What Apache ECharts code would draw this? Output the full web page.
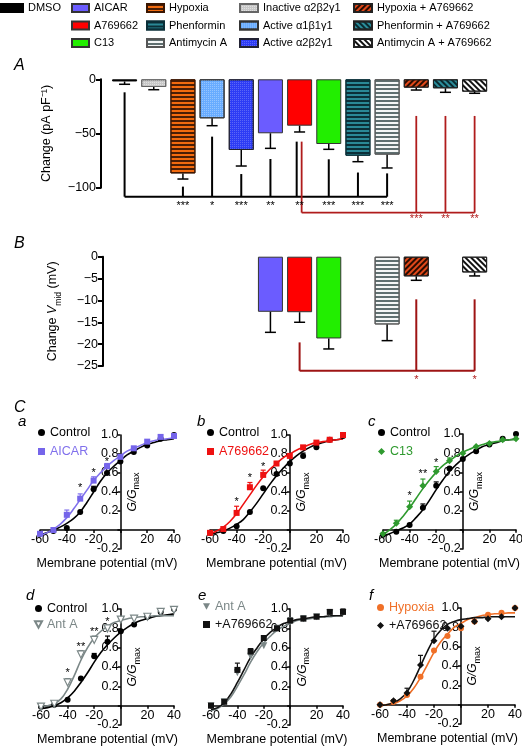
<!DOCTYPE html>
<html><head><meta charset="utf-8">
<script src="https://cdn.jsdelivr.net/npm/echarts@6/dist/echarts.min.js"></script>
<style>html,body{margin:0;padding:0;background:#fff}#c{width:522px;height:746px}</style>
</head><body><div id="c"></div>
<script>
const FONT = '"Liberation Sans", Arial, Helvetica, sans-serif';

// ---------- Panel A data ----------
const catsA = ['DMSO','Inactive α2β2γ1','Hypoxia','Active α1β1γ1','Active α2β2γ1','AICAR','A769662','C13','Phenformin','Antimycin A','Hypoxia + A769662','Phenformin + A769662','Antimycin A + A769662'];
const valsA = [-2.0,-7.1,-86.8,-36.0,-65.2,-49.8,-42.8,-59.7,-70.5,-69.5,-7.7,-8.3,-11.4];
const errA  = [-4.6,-9.6,-92.0,-42.8,-80.0,-63.7,-48.6,-64.6,-76.0,-81.8,-9.9,-12.0,-12.9];
const ticksA = [0,-50,-100];
const sigLinesA_black = [[0,-12,0,-108.3],[0,-108.3,9,-108.3],[2,-99,2,-108.3],[3,-52.9,3,-108.3],[4,-87.4,4,-108.3],[5,-73.5,5,-108.3],[5.9,-57.5,5.9,-108.3],[7,-73.8,7,-108.3],[8,-86,8,-108.3],[9,-86.8,9,-108.3]];
const sigLinesA_red = [[6.07,-57.5,6.07,-123],[6.07,-123,12,-123],[10,-33.8,10,-123],[11,-33.8,11,-123],[12,-33.8,12,-123]];
const starsA_black = [[2,-116.5,'***'],[3,-116.5,'*'],[4,-116.5,'***'],[5,-116.5,'**'],[6,-116.5,'**'],[7,-116.5,'***'],[8,-116.5,'***'],[9,-116.5,'***']];
const starsA_red = [[10,-129,'***'],[11,-129,'**'],[12,-129,'**']];

// ---------- Panel B data ----------
const catsB = ['AICAR','A769662','C13','Antimycin A','Hypoxia + A769662','Antimycin A + A769662'];
const valsB = [-12.6,-12.7,-18.7,-15.5,-4.5,-3.6];
const errB  = [-17.3,-15.0,-21.1,-19.2,-5.4,-4.4];
const ticksB = [0,-5,-10,-15,-20,-25];
const sigLinesB_red = [[6,-19.6,6,-26.1],[6,-26.1,12,-26.1],[10,-9.75,10,-26.1],[12,-9.75,12,-26.1]];
const starsB_red = [[10,-28.2,'*'],[12,-28.2,'*']];

// ---------- Panel C data ----------
const mvPts = [-60,-50,-40,-30,-20,-10,0,10,20,30,40];
const mvFit = [-60,-55,-50,-45,-40,-35,-30,-25,-20,-15,-10,-5,0,5,10,15,20,25,30,35,40];
const ticksCx = [-60,-40,-20,0,20,40];
const ticksCy = [-0.2,0,0.2,0.4,0.6,0.8,1.0];

const ctrlA_pts = [-0.04,-0.01,0.02,0.19,0.43,0.60,0.72,0.82,0.89,0.96,1.00];
const aicar_pts = [-0.04,0.00,0.16,0.33,0.52,0.67,0.77,0.86,0.93,0.98,0.99];
const ctrlA_fit = [-0.05,-0.03,0.00,0.03,0.07,0.12,0.19,0.29,0.40,0.51,0.60,0.67,0.73,0.79,0.83,0.87,0.90,0.92,0.94,0.95,0.96];
const aicar_fit = [-0.06,-0.03,0.01,0.06,0.13,0.22,0.32,0.42,0.52,0.60,0.67,0.73,0.78,0.83,0.86,0.89,0.92,0.94,0.95,0.96,0.97];
const ctrlA_err = [[-20,0.43,0.46]];
const aicar_err = [[-40,0.16,0.21],[-30,0.33,0.38],[-20,0.52,0.56],[-10,0.67,0.70]];
const stars_a = [[-30,0.44,'*'],[-20,0.60,'*'],[-10,0.72,'*']];

const ctrlB_pts = [-0.03,-0.01,0.04,0.19,0.44,0.59,0.70,0.78,0.87,0.95,0.99];
const a769B_pts = [-0.03,0.01,0.18,0.45,0.58,0.70,0.78,0.87,0.92,0.95,1.00];
const ctrlB_fit = [-0.05,-0.03,-0.01,0.02,0.06,0.11,0.19,0.28,0.38,0.48,0.57,0.65,0.72,0.78,0.83,0.87,0.90,0.92,0.94,0.95,0.96];
const a769B_fit = [-0.04,-0.01,0.03,0.09,0.17,0.27,0.37,0.47,0.56,0.64,0.70,0.76,0.80,0.84,0.87,0.90,0.92,0.93,0.94,0.95,0.96];
const ctrlB_err = [[10,0.78,0.81],[20,0.87,0.89]];
const a769B_err = [[-40,0.18,0.25],[-30,0.45,0.50],[-20,0.58,0.63]];
const stars_b = [[-40,0.29,'*'],[-30,0.55,'*'],[-20,0.66,'*']];

const ctrlC_pts = [-0.05,-0.02,0.05,0.23,0.46,0.64,0.74,0.82,0.89,0.95,1.00];
const c13_pts   = [-0.04,0.07,0.24,0.46,0.61,0.72,0.80,0.87,0.90,0.94,0.95];
const ctrlC_fit = [-0.06,-0.04,-0.01,0.02,0.06,0.13,0.21,0.31,0.42,0.52,0.61,0.68,0.74,0.79,0.83,0.87,0.89,0.91,0.93,0.94,0.95];
const c13_fit   = [-0.05,0.00,0.06,0.14,0.23,0.33,0.43,0.52,0.60,0.67,0.72,0.77,0.81,0.84,0.87,0.89,0.91,0.92,0.93,0.94,0.94];
const ctrlC_err = [[-30,0.23,0.27],[-20,0.46,0.50]];
const c13_err   = [[-50,0.07,0.10],[-40,0.24,0.30],[-30,0.46,0.53],[-20,0.61,0.66],[-10,0.72,0.75]];
const stars_c = [[-40,0.35,'*'],[-30,0.58,'**'],[-20,0.70,'*']];

const ctrlD_pts = [-0.01,0.01,0.06,0.28,0.51,0.66,0.77,0.84,0.92,0.97,1.00];
const antD_pts  = [-0.01,0.02,0.24,0.53,0.68,0.80,0.89,0.90,0.92,0.97,0.99];
const ctrlD_fit = [-0.03,-0.02,0.00,0.03,0.08,0.15,0.24,0.34,0.45,0.55,0.63,0.70,0.76,0.81,0.85,0.88,0.90,0.92,0.93,0.94,0.95];
const antD_fit  = [-0.01,0.00,0.02,0.07,0.17,0.31,0.47,0.60,0.70,0.77,0.82,0.86,0.88,0.90,0.91,0.92,0.92,0.93,0.93,0.93,0.93];
const ctrlD_err = [[-20,0.51,0.54],[-10,0.66,0.72]];
const antD_err  = [[-40,0.24,0.28],[-30,0.53,0.57],[-20,0.68,0.72],[-10,0.80,0.83]];
const stars_d = [[-40,0.34,'*'],[-30,0.61,'**'],[-20,0.76,'**'],[-10,0.87,'*']];

const antE_pts  = [0.00,0.04,0.34,0.51,0.62,0.80,0.87,0.90,0.92,0.96,0.96];
const a769E_pts = [0.00,0.04,0.37,0.56,0.70,0.80,0.88,0.90,0.92,0.97,0.97];
const antE_fit  = [-0.05,-0.03,0.02,0.09,0.20,0.32,0.45,0.56,0.65,0.72,0.78,0.82,0.85,0.88,0.89,0.90,0.91,0.92,0.92,0.93,0.93];
const a769E_fit = [-0.04,-0.02,0.03,0.12,0.24,0.37,0.50,0.60,0.69,0.76,0.81,0.85,0.87,0.89,0.90,0.91,0.92,0.92,0.93,0.93,0.93];
const antE_err  = [[0,0.87,0.91],[10,0.90,0.92]];
const a769E_err = [[-40,0.37,0.44],[-30,0.56,0.59],[10,0.90,0.93],[20,0.92,0.94],[40,0.97,1.00]];
const stars_e = [];

const hypF_pts  = [0.00,0.03,0.10,0.29,0.56,0.71,0.79,0.86,0.93,0.95,1.00];
const a769F_pts = [0.00,0.04,0.12,0.41,0.66,0.79,0.81,0.86,0.89,0.91,1.00];
const hypF_fit  = [-0.01,0.00,0.01,0.04,0.09,0.17,0.28,0.41,0.54,0.65,0.73,0.80,0.84,0.88,0.90,0.92,0.93,0.94,0.94,0.95,0.95];
const a769F_fit = [-0.01,0.00,0.02,0.06,0.13,0.25,0.40,0.55,0.68,0.77,0.83,0.86,0.88,0.89,0.90,0.90,0.91,0.91,0.91,0.91,0.91];
const hypF_err  = [];
const a769F_err = [[-50,0.04,0.05],[-40,0.12,0.17],[-30,0.41,0.51],[-20,0.66,0.76]];
const stars_f = [];

// ---------- styles ----------
const hStripe = c => ({symbol:'rect', symbolSize:1, dashArrayX:[1,0], dashArrayY:[1.4,1.9], rotation:0, color:c});
const dStripe = (c, r) => ({symbol:'rect', symbolSize:1, dashArrayX:[1,0], dashArrayY:[2,2], rotation:r, color:c});
const dots = c => ({symbol:'rect', symbolSize:1, dashArrayX:[1,1], dashArrayY:[1,1], rotation:0, color:c});
const barStyle = {
  'DMSO': {color:'#000', borderColor:'#000'},
  'Inactive α2β2γ1': {color:'#c8c8c8', borderColor:'#666', decal:dots('rgba(255,255,255,0.45)')},
  'Hypoxia': {color:'#f26b0f', borderColor:'#3a1500', decal:hStripe('#4a1e05')},
  'Active α1β1γ1': {color:'#68acff', borderColor:'#333', decal:dots('rgba(255,255,255,0.3)')},
  'Active α2β2γ1': {color:'#2d3cf5', borderColor:'#223', decal:dots('rgba(255,255,255,0.22)')},
  'AICAR': {color:'#6b5cff', borderColor:'#333'},
  'A769662': {color:'#ff0000', borderColor:'#333'},
  'C13': {color:'#22ee00', borderColor:'#333'},
  'Phenformin': {color:'#2a8896', borderColor:'#0b2f38', decal:hStripe('#0b2f38')},
  'Antimycin A': {color:'#f4f6f6', borderColor:'#555', decal:hStripe('#5f6f70')},
  'Hypoxia + A769662': {color:'#e0481a', borderColor:'#222', decal:dStripe('#2a0c00', -Math.PI/4)},
  'Phenformin + A769662': {color:'#2b8d9b', borderColor:'#222', decal:dStripe('#0a2a30', Math.PI/4)},
  'Antimycin A + A769662': {color:'#ffffff', borderColor:'#222', decal:dStripe('#111', Math.PI/4)}
};
const DOWN_TRI = 'path://M0,0 L10,0 L5,9 Z';

const minus = v => (v < 0 ? '\u2212' + Math.abs(v) : String(v));

function segSeries(segs, color, lw, xi, yi) {
  return {type:'custom', xAxisIndex:xi, yAxisIndex:yi, clip:false, silent:true, z:5, data:segs,
    renderItem:(p, api) => {
      const a = api.coord([api.value(0), api.value(1)]);
      const b = api.coord([api.value(2), api.value(3)]);
      return {type:'line', shape:{x1:a[0], y1:a[1], x2:b[0], y2:b[1]}, style:{stroke:color, lineWidth:lw}};
    }};
}
function errSeries(data, color, capHalf, lw, xi, yi, z) {
  return {type:'custom', xAxisIndex:xi, yAxisIndex:yi, clip:false, silent:true, z:z||4, data:data,
    renderItem:(p, api) => {
      const a = api.coord([api.value(0), api.value(1)]);
      const b = api.coord([api.value(0), api.value(2)]);
      return {type:'group', children:[
        {type:'line', shape:{x1:a[0], y1:a[1], x2:b[0], y2:b[1]}, style:{stroke:color, lineWidth:lw}},
        {type:'line', shape:{x1:b[0]-capHalf, y1:b[1], x2:b[0]+capHalf, y2:b[1]}, style:{stroke:color, lineWidth:lw}}
      ]};
    }};
}
function textSeries(data, color, fs, xi, yi) {
  return {type:'custom', xAxisIndex:xi, yAxisIndex:yi, clip:false, silent:true, z:6,
    data:data.map(d => [d[0], d[1]]),
    renderItem:(p, api) => {
      const a = api.coord([api.value(0), api.value(1)]);
      return {type:'text', x:a[0], y:a[1], style:{text:data[p.dataIndex][2], fill:color, font:fs + 'px ' + FONT, align:'center', verticalAlign:'middle'}};
    }};
}

const grids = [], xAxes = [], yAxes = [], series = [], legends = [], titles = [];

// ---------- Grid A ----------
grids.push({left:110, top:79.3, width:379.2, height:108.4});
xAxes.push({type:'category', gridIndex:0, data:catsA, show:false, axisLine:{onZero:false}});
xAxes.push({type:'value', gridIndex:0, min:-0.5, max:12.5, show:false, axisLine:{onZero:false}});
yAxes.push({type:'value', gridIndex:0, min:-100, max:0, interval:50, offset:9,
  axisLine:{show:true, onZero:false, lineStyle:{color:'#000', width:2}},
  axisTick:{show:true, length:5, lineStyle:{color:'#000', width:2}},
  axisLabel:{fontSize:12.5, color:'#000', margin:5, fontFamily:FONT, formatter:minus},
  splitLine:{show:false},
  name:'Change (pA pF\u207B\u00B9)', nameLocation:'middle', nameGap:48, nameRotate:90,
  nameTextStyle:{fontSize:12.5, color:'#000', fontFamily:FONT}});
catsA.forEach((name, i) => {
  series.push({type:'bar', name:name, stack:'A', xAxisIndex:0, yAxisIndex:0, barWidth:25, z:3,
    data: valsA.map((v, j) => j === i ? v : '-'),
    itemStyle: Object.assign({borderWidth:1}, barStyle[name])});
});
series.push(errSeries(catsA.map((c, i) => [i, valsA[i], errA[i]]), '#000', 5.5, 1.5, 1, 0));
series.push(segSeries(sigLinesA_black, '#000', 2, 1, 0));
series.push(segSeries(sigLinesA_red, '#b01c1c', 1.8, 1, 0));
series.push(textSeries(starsA_black, '#000', 11, 1, 0));
series.push(textSeries(starsA_red, '#b01c1c', 11, 1, 0));

// ---------- Grid B ----------
grids.push({left:110, top:256.7, width:379.2, height:109.3});
xAxes.push({type:'category', gridIndex:1, data:catsA, show:false, axisLine:{onZero:false}});
xAxes.push({type:'value', gridIndex:1, min:-0.5, max:12.5, show:false, axisLine:{onZero:false}});
yAxes.push({type:'value', gridIndex:1, min:-25, max:0, interval:5, offset:7,
  axisLine:{show:true, onZero:false, lineStyle:{color:'#000', width:2}},
  axisTick:{show:true, length:5, lineStyle:{color:'#000', width:2}},
  axisLabel:{fontSize:12.5, color:'#000', margin:5, fontFamily:FONT, formatter:minus},
  splitLine:{show:false},
  name:'Change {i|V}{s|mid} (mV)', nameLocation:'middle', nameGap:40, nameRotate:90,
  nameTextStyle:{fontSize:12.5, color:'#000', fontFamily:FONT,
    rich:{i:{fontSize:12.5, fontStyle:'italic', fontFamily:FONT, color:'#000'}, s:{fontSize:8.5, fontFamily:FONT, color:'#000', verticalAlign:'bottom', lineHeight:20}}}});
catsB.forEach((name, k) => {
  const idx = catsA.indexOf(name);
  series.push({type:'bar', name:name, stack:'B', xAxisIndex:2, yAxisIndex:1, barWidth:25, z:3,
    data: catsA.map((c, j) => j === idx ? valsB[k] : '-'),
    itemStyle: Object.assign({borderWidth:1}, barStyle[name])});
});
series.push(errSeries(catsB.map((c, k) => [catsA.indexOf(c), valsB[k], errB[k]]), '#000', 5.5, 1.5, 3, 1));
series.push(segSeries(sigLinesB_red, '#9e1414', 2, 3, 1));
series.push(textSeries(starsB_red, '#b01c1c', 11, 3, 1));

// ---------- Panel C ----------
const panelsC = [
  {key:'a', grid:{left:40, top:435, width:134, height:114}, legend:{left:38, top:426, gap:6},
   sets:[{name:'Control', pts:ctrlA_pts, fit:ctrlA_fit, err:ctrlA_err, color:'#000', line:'#000', symbol:'circle', size:6},
         {name:'AICAR', pts:aicar_pts, fit:aicar_fit, err:aicar_err, color:'#7565ea', line:'#8070ec', symbol:'rect', size:6}], stars:stars_a},
  {key:'b', grid:{left:210, top:435, width:133, height:114}, legend:{left:207, top:426, gap:6},
   sets:[{name:'Control', pts:ctrlB_pts, fit:ctrlB_fit, err:ctrlB_err, color:'#000', line:'#000', symbol:'circle', size:6},
         {name:'A769662', pts:a769B_pts, fit:a769B_fit, err:a769B_err, color:'#ee1111', line:'#ee1111', symbol:'rect', size:6}], stars:stars_b},
  {key:'c', grid:{left:383, top:434, width:133, height:115}, legend:{left:378, top:426, gap:6},
   sets:[{name:'Control', pts:ctrlC_pts, fit:ctrlC_fit, err:ctrlC_err, color:'#000', line:'#000', symbol:'circle', size:6},
         {name:'C13', pts:c13_pts, fit:c13_fit, err:c13_err, color:'#2f9a2f', line:'#2f9a2f', symbol:'diamond', size:7}], stars:stars_c},
  {key:'d', grid:{left:41, top:609, width:133, height:116}, legend:{left:34, top:602, gap:3},
   sets:[{name:'Control', pts:ctrlD_pts, fit:ctrlD_fit, err:ctrlD_err, color:'#000', line:'#000', symbol:'circle', size:6},
         {name:'Ant A', pts:antD_pts, fit:antD_fit, err:antD_err, color:'#fff', border:'#7b8787', line:'#7b8787', symbol:DOWN_TRI, size:7, text:'#7b8787'}], stars:stars_d},
  {key:'e', grid:{left:211, top:609, width:132, height:116}, legend:{left:203, top:600, gap:5},
   sets:[{name:'Ant A', pts:antE_pts, fit:antE_fit, err:antE_err, color:'#7b8787', line:'#7b8787', symbol:DOWN_TRI, size:7},
         {name:'+A769662', pts:a769E_pts, fit:a769E_fit, err:a769E_err, color:'#111', line:'#111', symbol:'rect', size:6}], stars:stars_e},
  {key:'f', grid:{left:380, top:608, width:135, height:116}, legend:{left:377, top:601, gap:5},
   sets:[{name:'Hypoxia', pts:hypF_pts, fit:hypF_fit, err:hypF_err, color:'#f07028', line:'#f07028', symbol:'circle', size:6},
         {name:'+A769662', pts:a769F_pts, fit:a769F_fit, err:a769F_err, color:'#111', line:'#111', symbol:'diamond', size:7}], stars:stars_f}
];

const XMIN = -60, XMAX = 40, YMIN = -0.2, YMAX = 1.0;
panelsC.forEach((P, k) => {
  const gi = 2 + k, xi = 4 + k, yi = 2 + k;
  grids.push(P.grid);
  // axes cross at zero: shift each axis line into the grid to the other axis' zero
  const xOff = -P.grid.height * (0 - YMIN) / (YMAX - YMIN);
  const yOff = -P.grid.width * (0 - XMIN) / (XMAX - XMIN);
  xAxes.push({type:'value', gridIndex:gi, min:XMIN, max:XMAX, interval:20, position:'bottom', offset:xOff,
    axisLine:{show:true, onZero:false, lineStyle:{color:'#000', width:1.5}},
    axisTick:{show:true, length:3, lineStyle:{color:'#000', width:1.5}},
    axisLabel:{fontSize:12.5, color:'#000', margin:3, fontFamily:FONT, formatter:v => v === 0 ? '' : String(v)},
    splitLine:{show:false},
    name:'Membrane potential (mV)', nameLocation:'middle', nameGap:27, nameMoveOverlap:false,
    nameTextStyle:{fontSize:12.5, color:'#000', fontFamily:FONT}});
  yAxes.push({type:'value', gridIndex:gi, min:YMIN, max:YMAX, interval:0.2, position:'left', offset:yOff,
    axisLine:{show:true, onZero:false, lineStyle:{color:'#000', width:1.5}},
    axisTick:{show:true, length:3, lineStyle:{color:'#000', width:1.5}},
    axisLabel:{fontSize:12.5, color:'#000', margin:2, fontFamily:FONT, formatter:v => Math.abs(v) < 1e-9 ? '' : v.toFixed(1)},
    splitLine:{show:false},
    name:'{i|G/G}{s|max}', nameLocation:'middle', nameGap:-21, nameRotate:90, nameMoveOverlap:false,
    nameTextStyle:{rich:{i:{fontSize:12, fontStyle:'italic', fontFamily:FONT, color:'#000'}, s:{fontSize:9, fontFamily:FONT, color:'#000', verticalAlign:'bottom', lineHeight:18}}}});
  const legendData = [];
  P.sets.forEach(S => {
    const sname = P.key + '#' + S.name;
    series.push({type:'line', name:sname + ' fit', xAxisIndex:xi, yAxisIndex:yi, smooth:0.4, showSymbol:false, silent:true, z:2,
      data: mvFit.map((x, j) => [x, S.fit[j]]), lineStyle:{color:S.line, width:1.6}});
    series.push(errSeries(S.err, S.line, 2.5, 1.2, xi, yi, 3));
    series.push({type:'scatter', name:sname, xAxisIndex:xi, yAxisIndex:yi, symbol:S.symbol, symbolSize:S.size, z:4,
      data: mvPts.map((x, j) => [x, S.pts[j]]),
      itemStyle:{color:S.color, borderColor:S.border || S.color, borderWidth:S.border ? 1.2 : 0, opacity:1}});
    legendData.push({name:sname, textStyle:{color:S.text || S.line}});
  });
  series.push(textSeries(P.stars, '#000', 11, xi, yi));
  legends.push({left:P.legend.left, top:P.legend.top, orient:'vertical', itemGap:P.legend.gap, padding:0,
    itemWidth:7, itemHeight:7, selectedMode:false, data:legendData,
    formatter:n => n.split('#')[1], textStyle:{fontSize:12.5, fontFamily:FONT}});
});

// ---------- top legends ----------
const legendCols = [
  {left:0, data:['DMSO'], w:22},
  {left:71, data:['AICAR','A769662','C13'], w:17},
  {left:146, data:['Hypoxia','Phenformin','Antimycin A'], w:17},
  {left:239, data:['Inactive α2β2γ1','Active α1β1γ1','Active α2β2γ1'], w:18},
  {left:353, data:['Hypoxia + A769662','Phenformin + A769662','Antimycin A + A769662'], w:18}
];
legendCols.forEach(L => legends.push({left:L.left, top:2.5, orient:'vertical', itemGap:6.5, padding:0,
  itemWidth:L.w, itemHeight:8, icon:'rect', selectedMode:false, data:L.data,
  textStyle:{fontSize:11, color:'#000', fontFamily:FONT}}));

// ---------- panel letters ----------
const letters = [['A',14,58,16],['B',14,236,16],['C',14,400,16],['a',18,414,15],['b',197,414,15],['c',368,414,15],['d',26,588,15],['e',198,588,15],['f',369,588,15]];
letters.forEach(l => titles.push({text:l[0], left:l[1], top:l[2], padding:0,
  textStyle:{fontSize:l[3], fontStyle:'italic', fontWeight:'normal', color:'#000', fontFamily:FONT}}));

const chart = echarts.init(document.getElementById('c'), null, {renderer:'canvas'});
chart.setOption({
  animation:false, backgroundColor:'#fff',
  textStyle:{fontFamily:FONT},
  title:titles, legend:legends, grid:grids.map(g => Object.assign({containLabel:false, outerBoundsMode:'none'}, g)),
  xAxis:xAxes, yAxis:yAxes, series:series
});
</script></body></html>
